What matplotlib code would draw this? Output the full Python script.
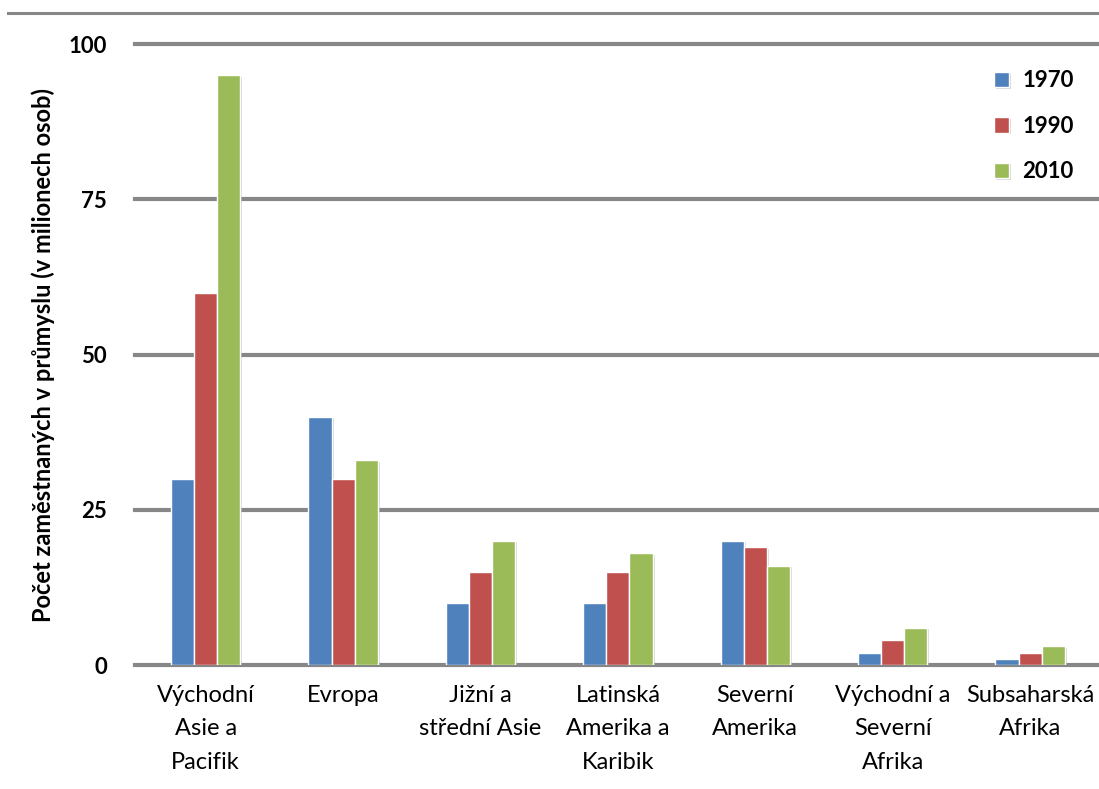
import numpy as np
import matplotlib
matplotlib.use("Agg")
import matplotlib.pyplot as plt
import matplotlib.patheffects as pe
from matplotlib.lines import Line2D

plt.rcParams['font.family'] = ['Lato', 'DejaVu Sans']

regions = ['Východní\nAsie a\nPacifik', 'Evropa', 'Jižní a\nstřední Asie',
           'Latinská\nAmerika a\nKaribik', 'Severní\nAmerika',
           'Východní a\nSeverní\nAfrika', 'Subsaharská\nAfrika']
years = ['1970', '1990', '2010']
v1970 = [30, 40, 10, 10, 20, 2, 1]
v1990 = [60, 30, 15, 15, 19, 4, 2]
v2010 = [95, 33, 20, 18, 16, 6, 3]
colors = ['#4F81BD', '#C0504D', '#9BBB59']
yticks = [0, 25, 50, 75, 100]

fig = plt.figure(figsize=(10.99, 7.89), dpi=100)
ax = fig.add_axes([0.1228, 0.157, 0.877, 0.787])

x = np.arange(len(regions))
w = 0.168
shadow = [pe.SimplePatchShadow(offset=(1.5, -1), shadow_rgbFace='#b0b0b0', alpha=0.5), pe.Normal()]
for i, (vals, col, yr) in enumerate(zip([v1970, v1990, v2010], colors, years)):
    bars = ax.bar(x + (i - 1) * w, vals, width=w, color=col, edgecolor='white',
                  linewidth=1.0, label=yr, zorder=3)
    for b in bars:
        b.set_path_effects(shadow)

ax.set_xlim(-0.515, 6.5)
ax.set_ylim(0, 100)
ax.set_yticks(yticks)
ax.set_yticklabels([str(t) for t in yticks], fontsize=16, fontweight='bold')
ax.yaxis.grid(True, color='#878787', linewidth=3, zorder=1)
for gl in ax.yaxis.get_gridlines():
    gl.set_clip_on(False)
ax.set_axisbelow(True)
ax.tick_params(axis='y', length=0, pad=20)
ax.set_xticks(x)
ax.set_xticklabels(regions, fontsize=17, linespacing=1.75)
ax.tick_params(axis='x', length=0, pad=14)
for s in ax.spines.values():
    s.set_visible(False)
ax.set_ylabel('Počet zaměstnaných v průmyslu (v milionech osob)', fontsize=17,
              fontweight='bold')
ax.yaxis.set_label_coords(-0.083, 0.5)

leg = ax.legend(loc='upper right', bbox_to_anchor=(0.995, 0.99), frameon=False,
                prop={'weight': 'bold', 'size': 16},
                handlelength=0.7, handleheight=0.7, handletextpad=0.6,
                labelspacing=1.1)

# chart border line along the top
fig.add_artist(Line2D([0.007, 1.0], [0.983, 0.983], color='#878787', linewidth=2.2,
                      transform=fig.transFigure))

fig.savefig('out.png', dpi=100)
